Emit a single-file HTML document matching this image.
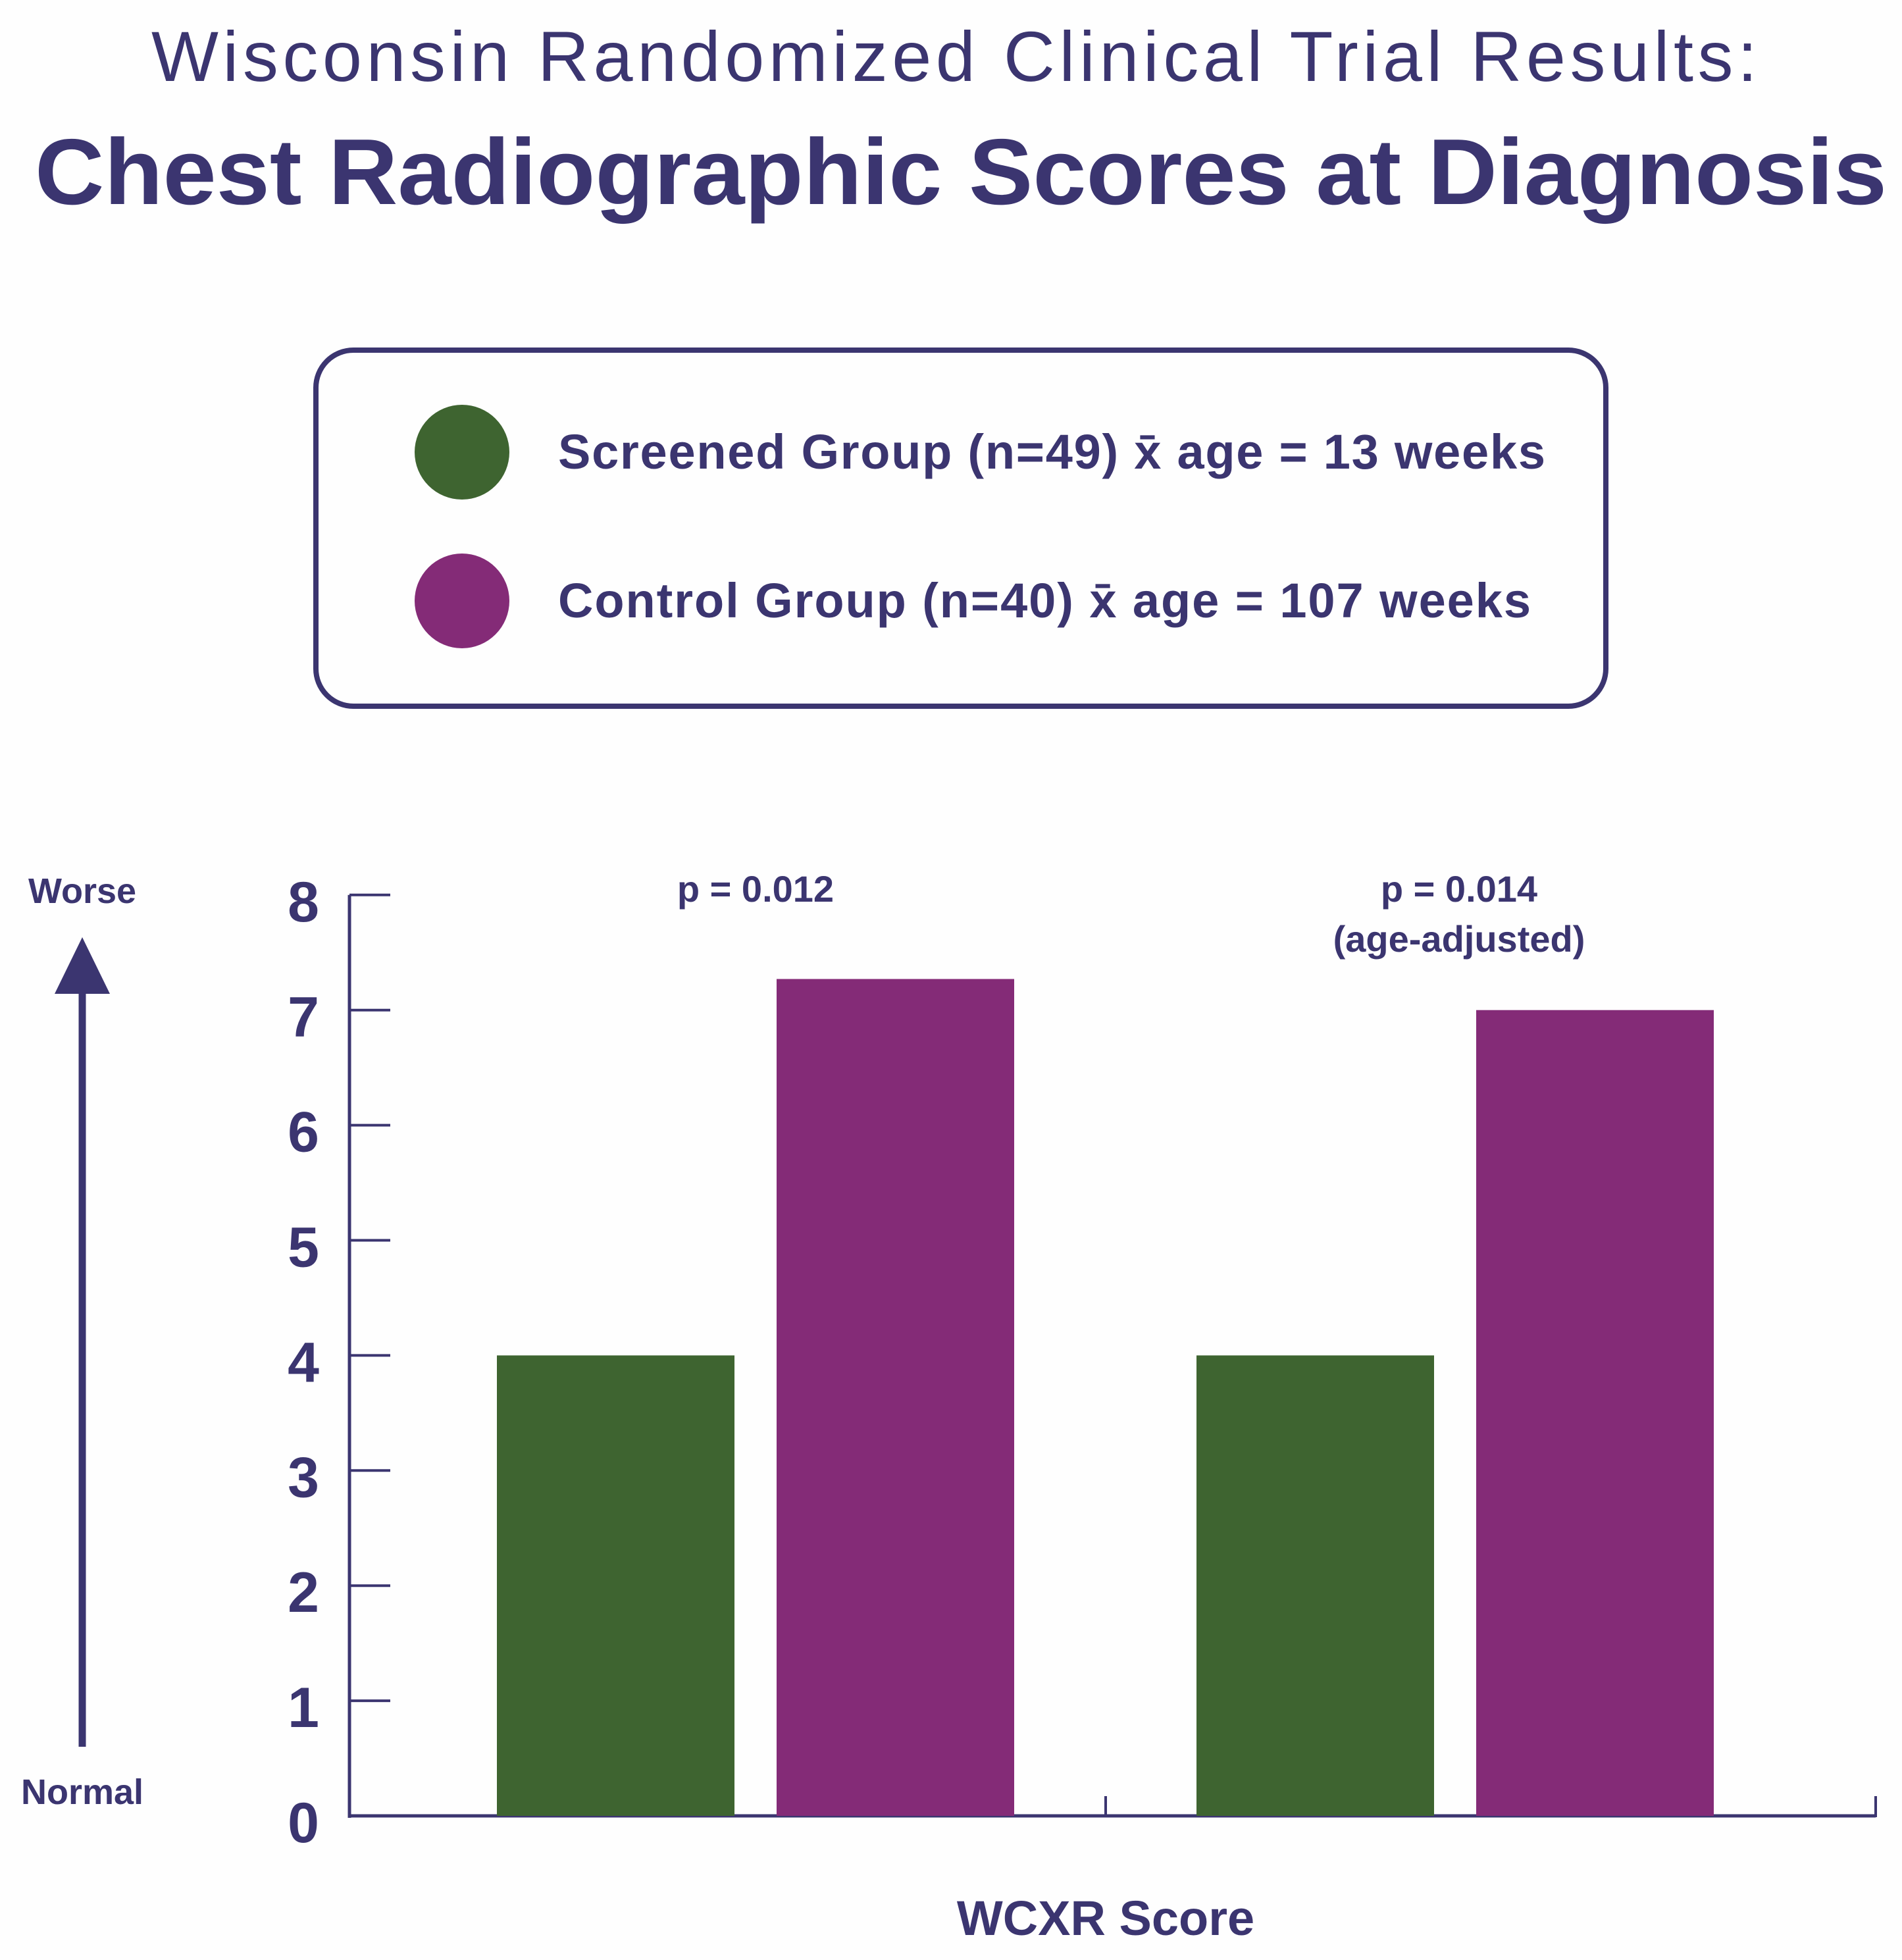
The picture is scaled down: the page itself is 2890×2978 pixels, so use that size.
<!DOCTYPE html>
<html><head><meta charset="utf-8"><style>
html,body{margin:0;padding:0;background:#fefefe;}
svg{display:block;font-family:"Liberation Sans",sans-serif;}
</style></head><body>
<svg width="2890" height="2978" viewBox="0 0 2890 2978">
<text x="1450" y="123" font-size="108" fill="#3b3570" text-anchor="middle" textLength="2440">Wisconsin Randomized Clinical Trial Results:</text>
<text x="1460" y="310" font-size="142" font-weight="bold" fill="#3b3570" text-anchor="middle" textLength="2814" lengthAdjust="spacingAndGlyphs">Chest Radiographic Scores at Diagnosis</text>
<g>
<rect x="480" y="532" width="1960" height="541" rx="57" fill="none" stroke="#3b3570" stroke-width="8"/>
<ellipse cx="702" cy="687" rx="72" ry="72" fill="#3e6430"/>
<text x="848" y="712" font-size="74" font-weight="bold" fill="#3b3570" textLength="1500">Screened Group (n=49) x̄ age = 13 weeks</text>
<ellipse cx="702" cy="913" rx="72" ry="72" fill="#842b77"/>
<text x="848" y="938" font-size="74" font-weight="bold" fill="#3b3570" textLength="1478">Control Group (n=40) x̄ age = 107 weeks</text>
</g>
<g>
<text x="125" y="1372" font-size="54" font-weight="bold" fill="#3b3570" text-anchor="middle">Worse</text>
<line x1="125" y1="2654" x2="125" y2="1480" stroke="#3b3570" stroke-width="11"/>
<polygon points="125,1424 83,1510 167,1510" fill="#3b3570"/>
<text x="125" y="2741" font-size="54" font-weight="bold" fill="#3b3570" text-anchor="middle">Normal</text>
</g>
<g id="axes"></g>
<g id="bars"></g>
<text x="1148" y="1370" font-size="56" font-weight="bold" fill="#3b3570" text-anchor="middle">p = 0.012</text>
<text x="2217" y="1370" font-size="56" font-weight="bold" fill="#3b3570" text-anchor="middle">p = 0.014</text>
<text x="2217" y="1446" font-size="56" font-weight="bold" fill="#3b3570" text-anchor="middle">(age-adjusted)</text>
<text x="1680" y="2940" font-size="74" font-weight="bold" fill="#3b3570" text-anchor="middle">WCXR Score</text>
</svg>
<script>
const tickValues = [0,1,2,3,4,5,6,7,8];
const tickLabels = ["0","1","2","3","4","5","6","7","8"];
const categories = ["Unadjusted","Age-adjusted"];
const screenedValues = [4.0, 4.0];
const controlValues = [7.27, 7.0];

const NS = "http://www.w3.org/2000/svg";
const x0 = 531, y0 = 2759, pxPerUnit = 174.9;
function yScale(v){ return y0 - v * pxPerUnit; }
const groupLeft = [755, 1818];
const barW = 361, barGap = 64;
const axes = document.getElementById('axes');
const bars = document.getElementById('bars');
function mk(tag, attrs, parent){ const e = document.createElementNS(NS, tag); for (const k in attrs) e.setAttribute(k, attrs[k]); parent.appendChild(e); return e; }

let yAxis = mk('line', {x1:x0, y1:yScale(8), x2:x0, y2:y0+3, stroke:'#3b3570', 'stroke-width':5}, axes);


let xAxis = mk('line', {x1:x0, y1:y0, x2:2850, y2:y0, stroke:'#3b3570', 'stroke-width':5}, axes);


mk('line', {x1:1680, y1:y0, x2:1680, y2:y0-30, stroke:'#3b3570', 'stroke-width':4}, axes);
mk('line', {x1:2850, y1:y0+2, x2:2850, y2:y0-30, stroke:'#3b3570', 'stroke-width':4}, axes);

tickValues.forEach((v, i) => {
  const y = yScale(v);
  if (v > 0) {
    const t = mk('line', {x1:x0, y1:y, x2:x0+62, y2:y, stroke:'#3b3570', 'stroke-width':4}, axes);
    
    
  }
  const lab = mk('text', {x:461, y:y+40, 'font-size':86, 'font-weight':'bold', fill:'#3b3570', 'text-anchor':'middle'}, axes);
  lab.textContent = tickLabels[i];
  
  
});

categories.forEach((c, i) => {
  const gx = groupLeft[i];
  const b1 = mk('rect', {x:gx, y:yScale(screenedValues[i]), width:barW, height:y0 - yScale(screenedValues[i]), fill:'#3e6430'}, bars);
  
  
  const b2 = mk('rect', {x:gx + barW + barGap, y:yScale(controlValues[i]), width:barW, height:y0 - yScale(controlValues[i]), fill:'#842b77'}, bars);
  
  
});
</script>
</body></html>
